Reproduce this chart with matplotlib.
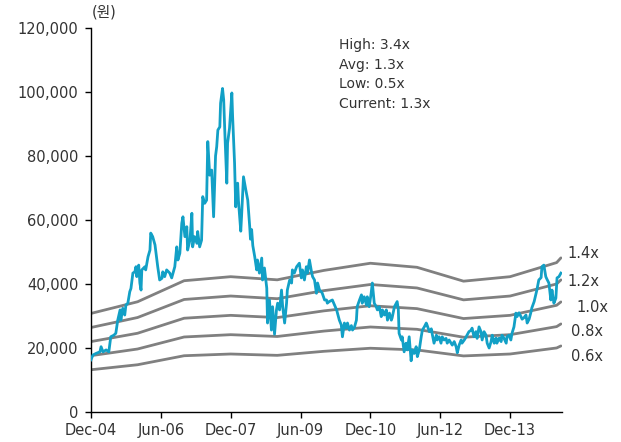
import matplotlib
matplotlib.use("Agg")
from matplotlib import pyplot as plt
from matplotlib.ticker import FuncFormatter

plt.rcParams['font.family'] = ['DejaVu Sans', 'Noto Sans CJK KR']

# Eje x: meses desde Dic-2004
meses_precio = [0.0, 0.5, 1.3, 2.3, 2.6, 3.1, 3.9, 4.6, 5.1, 5.9, 6.4, 6.9, 7.5, 7.7, 8.2, 8.7, 9.0,
                9.5, 10.0, 10.3, 10.8, 11.3, 11.6, 11.8, 12.3, 12.6, 12.9, 13.1, 13.9, 14.1, 14.7,
                15.2, 15.4, 15.9, 16.5, 17.0, 17.2, 17.7, 18.3, 18.5, 19.0, 19.5, 20.3, 20.8, 21.6,
                22.1, 22.4, 22.9, 23.4, 23.7, 24.2, 24.7, 24.9, 25.5, 26.0, 26.2, 26.7, 27.3, 27.5,
                28.0, 28.5, 28.8, 29.3, 29.8, 30.1, 30.6, 31.1, 31.6, 32.1, 32.4, 32.7, 33.2, 33.4,
                33.9, 34.2, 34.5, 35.0, 35.2, 35.7, 36.3, 36.5, 37.0, 37.3, 37.5, 37.8, 38.0, 38.6,
                38.8, 39.3, 39.9, 40.4, 40.9, 41.1, 41.4, 41.7, 42.2, 42.7, 42.9, 43.4, 44.0, 44.2,
                44.7, 45.3, 45.5, 46.0, 46.5, 46.8, 47.3, 47.8, 48.1, 48.6, 49.1, 49.4, 49.9, 50.4,
                50.6, 51.2, 51.7, 51.9, 52.4, 53.0, 53.7, 54.2, 54.5, 55.0, 55.5, 55.8, 56.3, 56.8,
                57.1, 57.6, 58.1, 58.4, 58.9, 59.4, 59.6, 60.2, 60.7, 60.9, 61.4, 62.2, 63.3, 64.0,
                64.5, 64.8, 65.3, 65.8, 66.1, 66.6, 67.1, 67.4, 67.9, 68.4, 68.6, 69.2, 69.7, 69.9,
                70.4, 71.0, 71.2, 71.7, 72.2, 72.5, 73.0, 73.5, 73.8, 74.3, 74.8, 75.1, 75.6, 76.1,
                76.4, 76.9, 77.4, 77.6, 78.2, 78.7, 78.9, 79.2, 79.4, 80.0, 80.2, 80.7, 81.2, 81.5,
                82.0, 82.5, 82.8, 83.3, 83.8, 84.1, 84.6, 85.1, 85.4, 85.9, 86.4, 86.6, 87.2, 87.7,
                87.9, 88.4, 89.0, 89.2, 89.7, 90.2, 90.5, 91.0, 91.5, 91.8, 92.3, 92.8, 93.1, 93.6,
                94.1, 94.4, 94.9, 95.4, 95.6, 96.2, 96.7, 96.9, 97.4, 98.0, 98.2, 98.7, 99.2, 99.5,
                100.0, 100.5, 100.8, 101.3, 101.8, 102.1, 102.6, 103.1, 103.4, 103.9, 104.4, 104.6,
                105.2, 105.7, 105.9, 106.4, 107.0, 107.2, 107.7, 108.2, 108.5, 109.0, 109.5, 109.8,
                110.3, 110.8, 111.1, 111.6, 112.1, 112.4, 112.9, 113.4, 113.6, 114.2, 114.7, 114.9,
                115.4, 116.0, 116.2, 116.7, 117.2, 117.5, 118.0, 118.5, 118.8, 119.3, 119.8, 120.1,
                120.6, 121.1]

# Precio de la accion (won)
precio = [16300, 17800, 18300, 18800, 20400, 18800, 19400, 18800, 23500, 24000, 24600, 28700,
          31900, 28700, 32400, 30300, 33400, 34000, 37600, 38600, 43400, 43800, 45400, 42300,
          45900, 40300, 38100, 44400, 45400, 44400, 48500, 50600, 55900, 54800, 52200, 47500,
          45400, 41250, 41800, 43800, 42300, 44400, 43400, 41900, 45400, 51600, 47500, 49600,
          59000, 61000, 54800, 57900, 50600, 53700, 62100, 51600, 54800, 52700, 56400, 51600,
          53700, 67300, 65200, 66200, 84500, 74000, 75600, 61000, 80000, 82900, 88100, 89100,
          96500, 101100, 97500, 87200, 71500, 84000, 88700, 99700, 92300, 77800, 64100, 70400,
          71500, 66000, 56500, 61000, 73500, 69400, 66200, 58000, 54000, 57000, 52000, 48500,
          44400, 47500, 43400, 48100, 41250, 45000, 38700, 27800, 35000, 25600, 32900, 24300,
          31900, 34000, 31900, 38100, 32900, 27800, 34000, 38100, 41250, 40300, 44400, 43400,
          45400, 46500, 41900, 44400, 41250, 45400, 43400, 47500, 44000, 42300, 41250, 37100,
          40300, 38100, 37500, 37100, 35000, 35000, 34000, 34500, 35000, 31900, 28700, 27200,
          23500, 27800, 26200, 27800, 25600, 27000, 25600, 26500, 28700, 32900, 35000, 36600,
          34000, 36000, 33400, 36000, 32900, 37100, 40300, 34000, 32900, 31900, 32900, 29800,
          31900, 30300, 31900, 28700, 30900, 28700, 29400, 32900, 34000, 34500, 32000, 24600,
          22500, 23500, 18800, 21500, 19400, 23500, 16000, 19400, 18300, 20400, 17300, 19400,
          23500, 25600, 26600, 27800, 27200, 25100, 26000, 24600, 21500, 24000, 22500, 23500,
          21500, 23500, 22500, 23000, 21500, 22500, 21500, 20900, 22000, 20400, 18500, 21000,
          22500, 21500, 22500, 23500, 24000, 25100, 25600, 26200, 23500, 25100, 23000, 26600,
          25100, 22500, 25100, 24000, 21500, 20000, 22000, 24000, 21500, 23100, 21500, 23100,
          22000, 24000, 23100, 21500, 23500, 24000, 22500, 24600, 26600, 30900, 29800, 31000,
          29800, 29000, 29500, 30300, 27800, 29000, 31300, 32500, 34500, 37100, 38100, 41250,
          42000, 45400, 45900, 42300, 41500, 40300, 35000, 38100, 34000, 35600, 41900, 42300,
          43400]

# BPS (won) usado para las bandas PBR
meses_bps = [0, 12, 24, 36, 48, 60, 72, 84, 96, 108, 120, 121.1]
bps = [22000, 24600, 29300, 30200, 29500, 31600, 33200, 32300, 29200, 30200, 33350, 34400]
multiplos = [1.4, 1.2, 1.0, 0.8, 0.6]
etiquetas_banda = ["1.4x", "1.2x", "1.0x", "0.8x", "0.6x"]
pos_etiqueta = [(122.7, 49400), (122.7, 40900), (125.0, 32800), (123.7, 25300), (123.7, 17200)]

ticks_x = [0, 18, 36, 54, 72, 90, 108]
etiquetas_x = ["Dec-04", "Jun-06", "Dec-07", "Jun-09", "Dec-10", "Jun-12", "Dec-13"]
ticks_y = [0, 20000, 40000, 60000, 80000, 100000, 120000]

resumen = "High: 3.4x\nAvg: 1.3x\nLow: 0.5x\nCurrent: 1.3x"

color_texto = "#333333"

fig = plt.figure(figsize=(6.21, 4.42), dpi=100)
ax = fig.add_axes([0.1465, 0.0679, 0.758, 0.8688])

# Bandas PBR
for m in multiplos:
    banda = [b * m for b in bps]
    ax.plot(meses_bps, banda, color="#808080", linewidth=2.0, solid_capstyle="round", zorder=2)

# Precio
ax.plot(meses_precio, precio, color="#12A0C6", linewidth=2.0, zorder=3)

for txt, (px, py) in zip(etiquetas_banda, pos_etiqueta):
    ax.text(px, py, txt, fontsize=10.5, color=color_texto, va="center", ha="left", clip_on=False)

ax.text(63.8, 116800, resumen, fontsize=10, color=color_texto, va="top", ha="left", linespacing=1.5)
ax.text(0.028, 1.042, "(원)", transform=ax.transAxes, fontsize=10.5, color=color_texto,
        ha="center", va="center")

ax.set_xlim(0, 121.3)
ax.set_ylim(0, 120000)
ax.set_xticks(ticks_x)
ax.set_xticklabels(etiquetas_x)
ax.set_yticks(ticks_y)
ax.yaxis.set_major_formatter(FuncFormatter(lambda v, p: "{:,.0f}".format(v)))

for lado in ["top", "right"]:
    ax.spines[lado].set_visible(False)
for lado in ["left", "bottom"]:
    ax.spines[lado].set_color("black")
    ax.spines[lado].set_linewidth(1.0)

ax.tick_params(axis="both", direction="out", length=4, width=1, colors="black",
               labelcolor=color_texto, labelsize=10.5)
ax.tick_params(axis="y", pad=5)
ax.tick_params(axis="x", pad=4)

plt.savefig("out.png", dpi=100)
